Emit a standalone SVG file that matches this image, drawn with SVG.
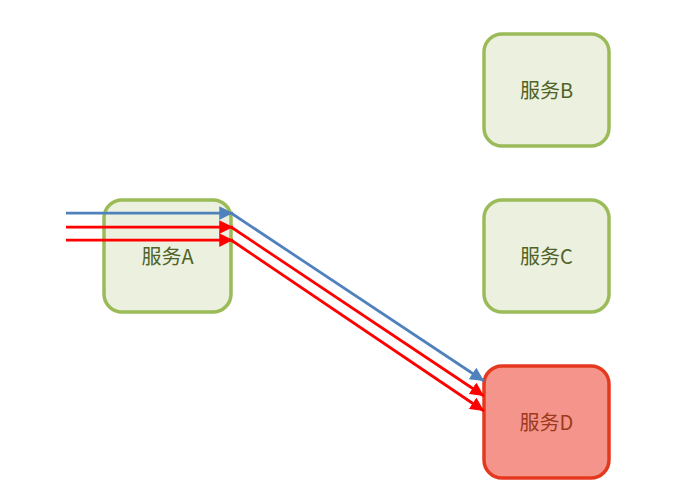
<svg xmlns="http://www.w3.org/2000/svg" width="689" height="496" viewBox="0 0 689 496">
<defs>
<style>
.n{fill:#ebf1de;stroke:#9bbb59;stroke-width:3.5}
.d{fill:#f4948a;stroke:#e5391f;stroke-width:3.5}
.t{font-family:"Noto Sans CJK SC","Noto Sans",sans-serif;font-size:20px;text-anchor:middle;dominant-baseline:central;fill:#4f6228}
.td{fill:#9c3a1c}
.b{fill:none;stroke:#4f81bd;stroke-width:2.75}
.r{fill:none;stroke:#ff0000;stroke-width:2.75}
</style>
<marker id="ab" viewBox="0 0 10 10" refX="10" refY="5" markerWidth="5" markerHeight="5" orient="auto" markerUnits="strokeWidth"><path d="M0,0L10,5L0,10z" fill="#4f81bd"/></marker>
<marker id="ar" viewBox="0 0 10 10" refX="10" refY="5" markerWidth="5" markerHeight="5" orient="auto" markerUnits="strokeWidth"><path d="M0,0L10,5L0,10z" fill="#ff0000"/></marker>
</defs>
<rect width="689" height="496" fill="#ffffff"/>
<g id="nodeA"><rect class="n" x="104" y="200" width="127" height="112" rx="18"/><text class="t" x="167.5" y="255.5">服务A</text></g>
<g id="nodeB"><rect class="n" x="484" y="34" width="125" height="112" rx="18"/><text class="t" x="546.5" y="89">服务B</text></g>
<g id="nodeC"><rect class="n" x="484" y="200" width="125" height="112" rx="18"/><text class="t" x="546.5" y="255">服务C</text></g>
<g id="nodeD"><rect class="d" x="484" y="366" width="125" height="112" rx="18"/><text class="t td" x="546.5" y="421">服务D</text></g>
<g id="connectors">
<line class="b" x1="66" y1="213" x2="233" y2="213" marker-end="url(#ab)"/>
<line class="r" x1="66" y1="227" x2="233" y2="227" marker-end="url(#ar)"/>
<line class="r" x1="66" y1="240" x2="233" y2="240" marker-end="url(#ar)"/>
<line class="b" x1="231" y1="213" x2="484" y2="381" marker-end="url(#ab)"/>
<line class="r" x1="231" y1="227" x2="484" y2="396" marker-end="url(#ar)"/>
<line class="r" x1="231" y1="240" x2="484" y2="411" marker-end="url(#ar)"/>
</g>
</svg>
